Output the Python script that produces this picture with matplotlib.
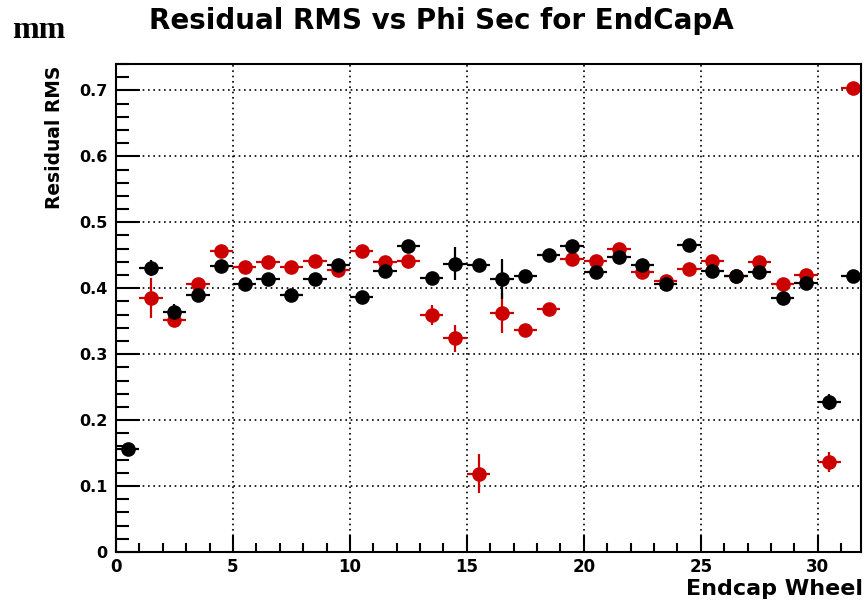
import numpy as np
import matplotlib
matplotlib.use("Agg")
import matplotlib.pyplot as plt
from matplotlib.ticker import MultipleLocator

# bin centres (phi sector index)
sectors = np.arange(32) + 0.5

black_rms = [0.156, 0.431, 0.364, 0.390, 0.434, 0.406, 0.414, 0.390,
             0.414, 0.435, 0.387, 0.426, 0.464, 0.416, 0.437, 0.435,
             0.414, 0.419, 0.450, 0.464, 0.424, 0.447, 0.435, 0.406,
             0.466, 0.426, 0.419, 0.424, 0.385, 0.408, 0.228, 0.419]
black_err = [0.005, 0.012, 0.012, 0.006, 0.005, 0.005, 0.005, 0.005,
             0.005, 0.006, 0.005, 0.006, 0.006, 0.008, 0.025, 0.005,
             0.030, 0.005, 0.005, 0.006, 0.006, 0.006, 0.006, 0.005,
             0.005, 0.005, 0.005, 0.006, 0.006, 0.008, 0.012, 0.005]

red_rms = [np.nan, 0.385, 0.352, 0.406, 0.456, 0.432, 0.440, 0.432,
           0.442, 0.428, 0.456, 0.439, 0.442, 0.359, 0.324, 0.119,
           0.362, 0.336, 0.368, 0.444, 0.442, 0.459, 0.425, 0.411,
           0.429, 0.442, 0.419, 0.439, 0.406, 0.420, 0.137, 0.703]
red_err = [0.0, 0.030, 0.006, 0.008, 0.008, 0.006, 0.006, 0.005,
           0.006, 0.005, 0.006, 0.006, 0.006, 0.015, 0.020, 0.030,
           0.030, 0.008, 0.005, 0.005, 0.006, 0.006, 0.006, 0.005,
           0.006, 0.006, 0.005, 0.006, 0.006, 0.008, 0.015, 0.005]

W, H = 866, 601
fig = plt.figure(figsize=(W / 100, H / 100), dpi=100)
ax = fig.add_axes([116 / W, 1 - 552 / H, (861 - 116) / W, (552 - 64) / H])

style = dict(fmt="o", markersize=9.5, elinewidth=1.6, capsize=0, xerr=0.5)
ax.errorbar(sectors, red_rms, yerr=red_err, color="#cc0000", **style)
ax.errorbar(sectors, black_rms, yerr=black_err, color="black", **style)

ax.set_xlim(0, 31.85)
ax.set_ylim(0, 0.74)
ax.xaxis.set_major_locator(MultipleLocator(5))
ax.xaxis.set_minor_locator(MultipleLocator(1))
ax.yaxis.set_minor_locator(MultipleLocator(0.02))
ax.set_yticks(np.arange(0, 0.71, 0.1))
ax.set_yticklabels(["0", "0.1", "0.2", "0.3", "0.4", "0.5", "0.6", "0.7"])

ax.grid(True, which="major", color="black", linestyle=(0, (1, 2.2)), linewidth=1.2)
ax.tick_params(axis="both", which="both", direction="in", top=False, right=False,
               width=1.5)
ax.tick_params(axis="y", which="major", length=17, pad=6, labelsize=11.5)
ax.tick_params(axis="y", which="minor", length=9)
ax.tick_params(axis="x", which="major", length=12, pad=4, labelsize=12)
ax.tick_params(axis="x", which="minor", length=6.5)
for lab in ax.get_xticklabels() + ax.get_yticklabels():
    lab.set_fontweight("bold")
    lab.set_family("DejaVu Sans")
for sp in ax.spines.values():
    sp.set_linewidth(1.5)

fig.text(441 / W, 1 - 29 / H, "Residual RMS vs Phi Sec for EndCapA", ha="center",
         va="baseline", fontsize=20, fontweight="bold", family="DejaVu Sans")
fig.text(12 / W, 1 - 38 / H, "mm", ha="left", va="baseline", fontsize=23,
         fontweight="bold", family="Liberation Serif")
fig.text(55 / W, 1 - 66 / H, "Residual RMS", rotation=90, ha="center", va="top",
         fontsize=13.4, fontweight="bold", family="DejaVu Sans")
fig.text(863 / W, 1 - 595 / H, "Endcap Wheel", ha="right", va="baseline",
         fontsize=16, fontweight="bold", family="DejaVu Sans")

fig.savefig("out.png", dpi=100)
